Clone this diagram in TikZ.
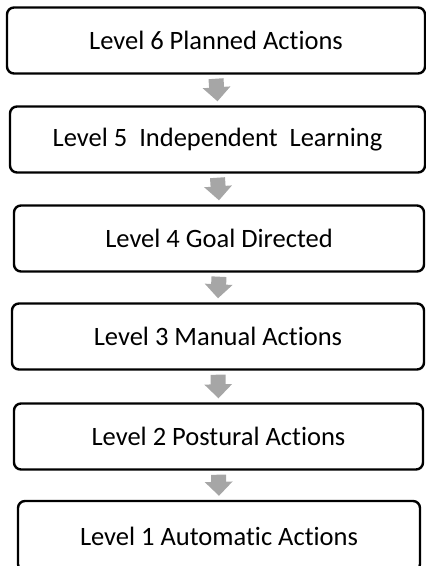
\documentclass[tikz,border=0pt]{standalone}
\usepackage{fontspec}
\setmainfont[Ligatures={NoCommon,NoRare}]{Carlito}
\usetikzlibrary{arrows.meta}

\definecolor{arrowgray}{HTML}{A6A6A6}

\begin{document}
\begin{tikzpicture}[x=1pt,y=-1pt,
	levelbox/.style={draw,line width=2.4pt,rounded corners=7pt,inner sep=0pt,
		minimum height=66pt,font=\fontsize{26.5}{32}\selectfont},
	levelarrow/.style={arrowgray,line width=15pt,-{Triangle[width=27pt,length=14pt]}}]

\useasboundingbox (0,0) rectangle (426,566);

\node[levelbox,minimum width=418pt] (l6) at (216,40.5) {Level 6 Planned Actions};
\node[levelbox,minimum width=415pt] (l5) at (217.5,139.5) {Level 5\ \ Independent\ \ Learning};
\node[levelbox,minimum width=410pt] (l4) at (219,238.5) {Level 4 Goal Directed};
\node[levelbox,minimum width=412pt] (l3) at (218,336.5) {Level 3 Manual Actions};
\node[levelbox,minimum width=409pt] (l2) at (218.5,436.5) {Level 2 Postural Actions};
\node[levelbox,minimum width=402pt,minimum height=70pt] (l1) at (219,536) {Level 1 Automatic Actions};

\foreach \a/\b in {l6/l5,l5/l4,l4/l3,l3/l2,l2/l1}
{
	\draw[levelarrow] ([yshift=-4pt]\a.south) -- ([yshift=4pt]\b.north);
}

\end{tikzpicture}
\end{document}
